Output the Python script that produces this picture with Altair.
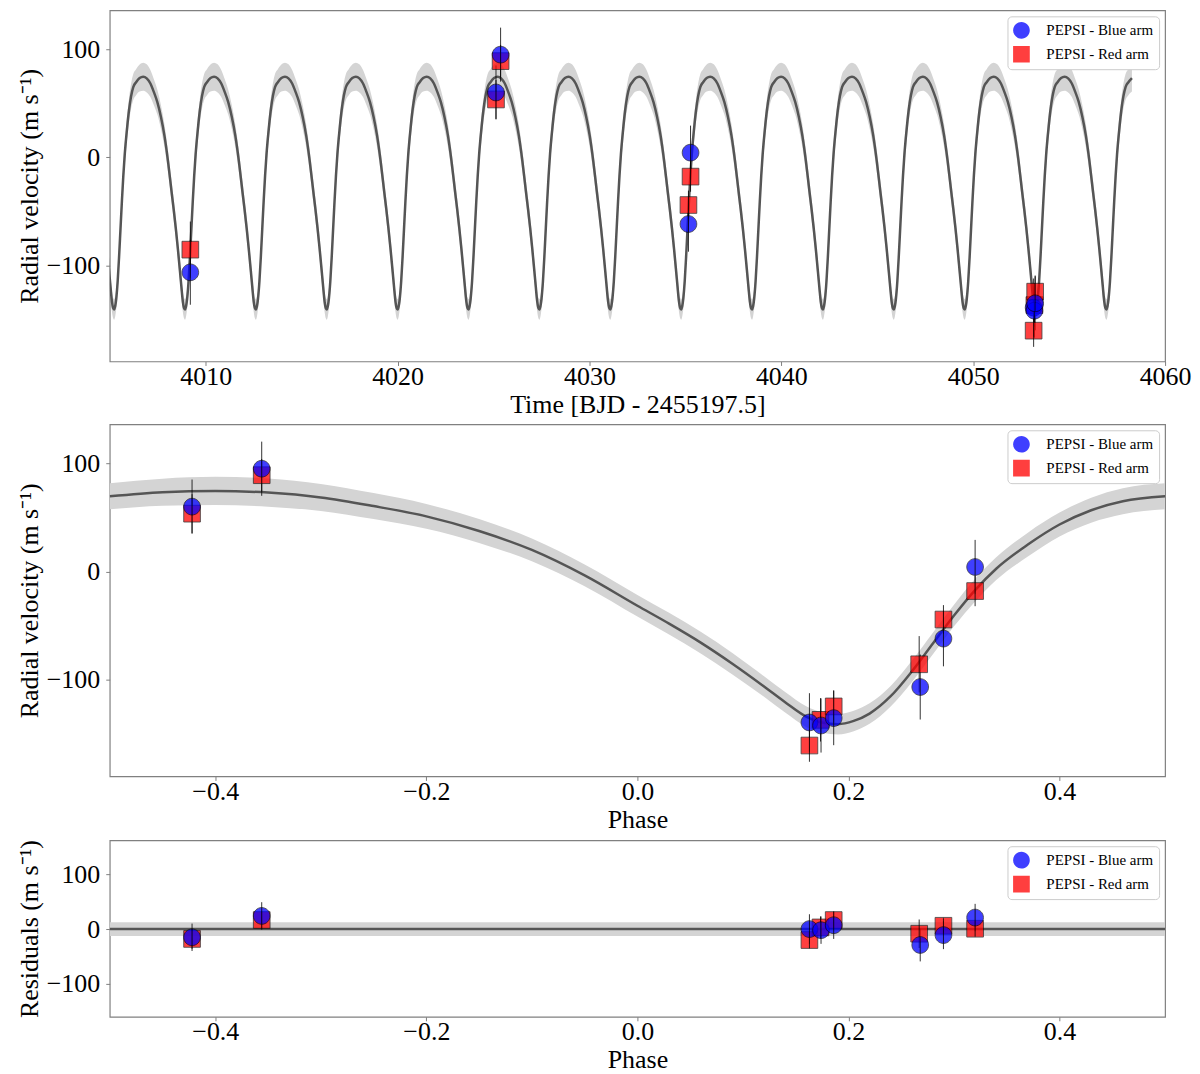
import pandas as pd
import altair as alt

# Keplerian model
model_phase = [-0.50, -0.45, -0.40, -0.35, -0.30, -0.25, -0.20, -0.15, -0.10, -0.05,
               0.00, 0.03, 0.06, 0.09, 0.12, 0.14, 0.16, 0.175, 0.19, 0.205,
               0.22, 0.24, 0.26, 0.28, 0.30, 0.32, 0.34, 0.37, 0.40, 0.43, 0.46, 0.50]
model_rv = [69.5, 73.3, 74.5, 73.0, 68.5, 60.5, 51.0, 37.5, 20.0, -3.5,
            -31.5, -48.0, -65.5, -85.0, -106.0, -120.5, -133.8, -139.3, -140.8, -137.8,
            -131.0, -115.0, -92.2, -66.3, -40.5, -17.0, 2.7, 25.0, 43.5, 56.7, 65.0, 69.5]
model_unc = [12, 12.5, 13, 13, 12.5, 12, 11.5, 11, 10.5, 10,
             10, 10, 10, 10, 9.5, 9.5, 9.5, 9.5, 9.5, 9.5,
             9.5, 9.5, 10, 10, 10, 10.5, 10.5, 11, 11, 11.5, 12, 12]

# ephemeris read from the time series (minima positions)
period = 3.694
t_zero = 4008.22
model_t_start, model_t_end = 4004.0, 4058.3

# residual panel: flat model with its uncertainty band
res_phase = [-0.5, 0.5]
res_mid = [0.0, 0.0]
res_unc = [12.5, 12.5]

arms = ['PEPSI - Blue arm', 'PEPSI - Red arm']

blue_time = [4009.20, 4025.13, 4025.37, 4035.16, 4035.27, 4053.15, 4053.19, 4053.23]
blue_phase = [0.268, -0.422, -0.356, 0.290, 0.320, 0.163, 0.174, 0.186]
blue_rv = [-106.5, 60.0, 95.0, -61.8, 4.3, -139.2, -142.0, -135.2]
blue_err = [30.0, 25.0, 25.0, 25.6, 25.0, 27.0, 25.0, 25.0]
blue_res = [-29.0, -15.0, 24.0, -11.0, 21.0, 0.0, -2.0, 7.0]

red_time = [4009.20, 4025.13, 4025.37, 4035.16, 4035.27, 4053.15, 4053.19, 4053.23]
red_phase = [0.267, -0.422, -0.356, 0.290, 0.320, 0.163, 0.1735, 0.186]
red_rv = [-85.5, 53.5, 89.0, -44.2, -17.9, -160.5, -136.8, -124.4]
red_err = [26.0, 18.0, 15.0, 13.3, 14.0, 15.0, 20.0, 15.0]
red_res = [-8.5, -18.0, 16.5, 6.0, 0.6, -20.0, 3.0, 16.5]

# ---- tables ----
df_phase_model = pd.DataFrame({'phase': model_phase, 'rv': model_rv, 'unc': model_unc})
df_phase_model['lo'] = df_phase_model['rv'] - df_phase_model['unc']
df_phase_model['hi'] = df_phase_model['rv'] + df_phase_model['unc']

# same model laid out along the time axis, one copy per orbit
rows = []
for k in range(-2, 16):
    for ph, v, u in zip(model_phase[:-1], model_rv[:-1], model_unc[:-1]):
        t = t_zero + (ph + k) * period
        if model_t_start <= t <= model_t_end:
            rows.append({'time': t, 'rv': v, 'lo': v - u, 'hi': v + u})
df_time_model = pd.DataFrame(rows).sort_values('time')

df_res_model = pd.DataFrame({'phase': res_phase, 'rv': res_mid, 'unc': res_unc})
df_res_model['lo'] = df_res_model['rv'] - df_res_model['unc']
df_res_model['hi'] = df_res_model['rv'] + df_res_model['unc']

df_blue = pd.DataFrame({'time': blue_time, 'phase': blue_phase, 'rv': blue_rv,
                        'err': blue_err, 'res': blue_res, 'arm': arms[0]})
df_red = pd.DataFrame({'time': red_time, 'phase': red_phase, 'rv': red_rv,
                       'err': red_err, 'res': red_res, 'arm': arms[1]})
df_pts = pd.concat([df_red, df_blue], ignore_index=True)
df_pts['rv_lo'] = df_pts['rv'] - df_pts['err']
df_pts['rv_hi'] = df_pts['rv'] + df_pts['err']
df_pts['res_lo'] = df_pts['res'] - df_pts['err']
df_pts['res_hi'] = df_pts['res'] + df_pts['err']

# ---- styling ----
serif = 'Liberation Serif'
circle_bar = 'M-1,0A1,1,0,1,1,1,0A1,1,0,1,1,-1,0Z M0,-1L0,1'
square_bar = 'M-1,-1L1,-1L1,1L-1,1Z M0,-1L0,1'
PLOT_W = 1058

legend = alt.Legend(title=None, orient='top-right', offset=6, padding=5, rowPadding=4,
                    fillColor='white', strokeColor='#cccccc', cornerRadius=4,
                    labelFont=serif, labelFontSize=15, labelColor='black', labelOffset=16,
                    symbolSize=280, symbolOpacity=0.75, symbolStrokeColor='black',
                    symbolStrokeWidth=0.8)
color = alt.Color('arm:N', scale=alt.Scale(domain=arms, range=['#0000ff', '#ff0000']), legend=legend)
shape = alt.Shape('arm:N', scale=alt.Scale(domain=arms, range=[circle_bar, square_bar]), legend=legend)


def panel(df_model, xfield, yfield, lo, hi, xscale, xaxis, yscale, ytitle, height):
    x = alt.X(f'{xfield}:Q', scale=xscale, axis=xaxis)
    yaxis = alt.Axis(values=[-100, 0, 100], format='d', title=ytitle)
    band = alt.Chart(df_model).mark_area(color='#d4d4d4', interpolate='monotone', clip=True).encode(
        x=x, y=alt.Y('lo:Q', scale=yscale, axis=yaxis), y2='hi:Q')
    line = alt.Chart(df_model).mark_line(color='#555555', strokeWidth=2.5, interpolate='monotone', clip=True).encode(
        x=x, y=alt.Y('rv:Q', scale=yscale))
    bars = alt.Chart(df_pts).mark_rule(color='black', strokeWidth=1, opacity=0.8).encode(
        x=x, y=alt.Y(f'{lo}:Q', scale=yscale), y2=f'{hi}:Q')
    pts = alt.Chart(df_pts).mark_point(filled=True, size=280, opacity=0.75, stroke='black',
                                       strokeWidth=0.8).encode(
        x=x, y=alt.Y(f'{yfield}:Q', scale=yscale), color=color, shape=shape)
    return alt.layer(band, line, bars, pts).properties(width=PLOT_W, height=height)


rv_scale = alt.Scale(domain=[-189, 136], nice=False, zero=False)
res_scale = alt.Scale(domain=[-160, 162], nice=False, zero=False)
phase_scale = alt.Scale(domain=[-0.5, 0.5], nice=False, zero=False)
phase_axis = alt.Axis(values=[-0.4, -0.2, 0.0, 0.2, 0.4], format='.1f', title='Phase')

top = panel(df_time_model, 'time', 'rv', 'rv_lo', 'rv_hi',
            alt.Scale(domain=[4005, 4060], nice=False, zero=False),
            alt.Axis(values=[4010, 4020, 4030, 4040, 4050, 4060], format='d',
                     title='Time [BJD - 2455197.5]'),
            rv_scale, 'Radial velocity (m s⁻¹)', 352)
mid = panel(df_phase_model, 'phase', 'rv', 'rv_lo', 'rv_hi', phase_scale, phase_axis,
            rv_scale, 'Radial velocity (m s⁻¹)', 353)
bot = panel(df_res_model, 'phase', 'res', 'res_lo', 'res_hi', phase_scale, phase_axis,
            res_scale, 'Residuals (m s⁻¹)', 177)

chart = alt.vconcat(top, mid, bot, spacing=5).resolve_scale(
    color='independent', shape='independent'
).resolve_legend(
    color='independent', shape='independent'
).configure(
    padding={'left': 7, 'top': 0, 'right': 0, 'bottom': 0}
).configure_view(
    stroke='#808080', strokeWidth=1.2
).configure_axis(
    labelFont=serif, titleFont=serif, labelFontSize=26, titleFontSize=26,
    titleFontWeight='normal', labelColor='black', titleColor='black',
    domain=False, grid=False, tickColor='#808080', tickSize=4,
    labelFlush=False, labelOverlap=False
).configure_axisX(
    labelPadding=-2, titlePadding=2
).configure_axisY(
    labelPadding=6, titlePadding=4
)

chart.save('out.html', embed_options={'renderer': 'svg', 'actions': False})
